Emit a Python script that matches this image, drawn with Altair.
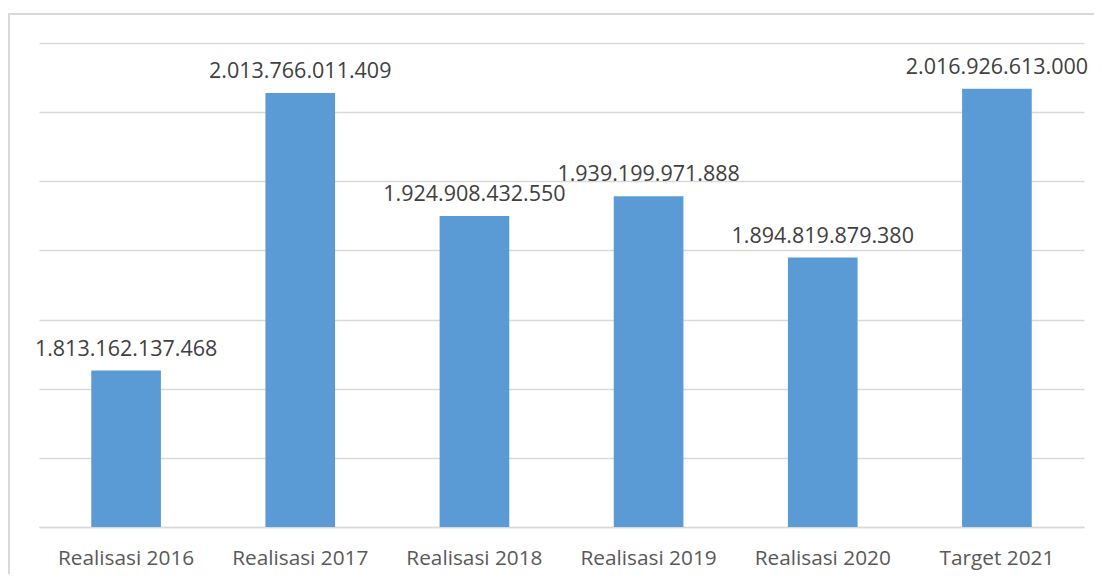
import altair as alt
import pandas as pd

categories = ["Realisasi 2016", "Realisasi 2017", "Realisasi 2018",
              "Realisasi 2019", "Realisasi 2020", "Target 2021"]
values = [1813162137468, 2013766011409, 1924908432550,
          1939199971888, 1894819879380, 2016926613000]
labels = ["1.813.162.137.468", "2.013.766.011.409", "1.924.908.432.550",
          "1.939.199.971.888", "1.894.819.879.380", "2.016.926.613.000"]
y_min, y_max = 1.70e12, 2.05e12
grid_values = [1.70e12, 1.75e12, 1.80e12, 1.85e12, 1.90e12, 1.95e12, 2.00e12, 2.05e12]

df = pd.DataFrame({"cat": categories, "val": values, "lab": labels})
df["base"] = y_min

FONT = "Open Sans"

x_enc = alt.X("cat:N", sort=categories, title=None,
              scale=alt.Scale(paddingInner=0.6, paddingOuter=0.3),
              axis=alt.Axis(labelAngle=0, labelFont=FONT, labelFontSize=20.8,
                            labelColor="#595959", labelPadding=21,
                            ticks=False, domainColor="#d9d9d9", domainWidth=1.5,
                            grid=False))
y_scale = alt.Scale(domain=[y_min, y_max], zero=False, nice=False)

bars = alt.Chart(df).mark_bar(color="#5B9BD5").encode(
    x=x_enc,
    y=alt.Y("val:Q", scale=y_scale, title=None,
            axis=alt.Axis(values=grid_values, labels=False, ticks=False,
                          domain=False, grid=True, gridColor="#d9d9d9",
                          gridWidth=1.3)),
    y2="base:Q",
)

text = alt.Chart(df).mark_text(font=FONT, fontSize=21.5, color="#404040",
                               baseline="alphabetic", dy=-15).encode(
    x=alt.X("cat:N", sort=categories),
    y=alt.Y("val:Q", scale=y_scale),
    text="lab:N",
)

frame = alt.Chart(df).mark_rect(fill=None, stroke="#d9d9d9", strokeWidth=1.5).encode(
    x=alt.value(-30), x2=alt.value(1100), y=alt.value(-29), y2=alt.value(600)
)

chart = alt.layer(frame, bars, text).properties(
    width=1045, height=484,
    autosize=alt.AutoSizeParams(type="none"),
    padding={"left": 31, "top": 35, "right": 10, "bottom": 47},
).configure_view(stroke=None)

chart.save("out.html", embed_options={"renderer": "svg", "actions": False})
